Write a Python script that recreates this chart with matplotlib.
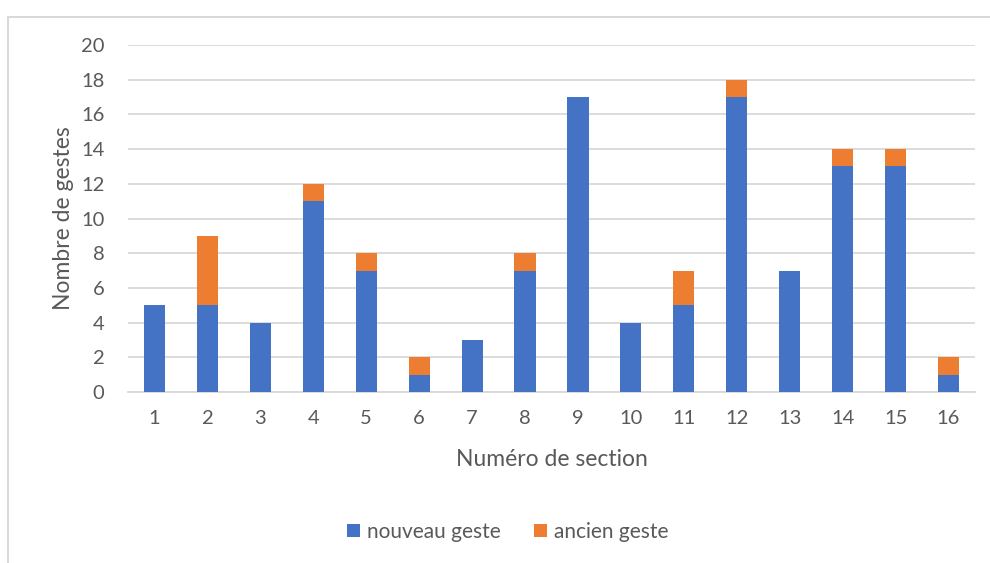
import matplotlib
matplotlib.use("Agg")
import matplotlib.pyplot as plt
from matplotlib.patches import Rectangle

sections = [str(i) for i in range(1, 17)]
nouveau = [5, 5, 4, 11, 7, 1, 3, 7, 17, 4, 5, 17, 7, 13, 13, 1]
ancien = [0, 4, 0, 1, 1, 1, 0, 1, 0, 0, 2, 1, 0, 1, 1, 1]
yticks = list(range(0, 21, 2))

blue = "#4472C4"
orange = "#ED7D31"
grid = "#D9D9D9"
txt = "#595959"

plt.rcParams["font.family"] = ["Lato", "DejaVu Sans"]

W, H = 990, 563
fig = plt.figure(figsize=(W / 100, H / 100), dpi=100)

# chart frame
fig.patches.append(Rectangle((8 / W, -0.1), 1.2, (H - 17) / H + 0.1,
                             transform=fig.transFigure, fill=False,
                             edgecolor=grid, linewidth=1.5))

ax = fig.add_axes([128 / W, 1 - 392 / H, (975 - 128) / W, (392 - 45) / H])
x = list(range(len(sections)))
ax.bar(x, nouveau, width=0.4, color=blue, label="nouveau geste", zorder=3)
ax.bar(x, ancien, width=0.4, bottom=nouveau, color=orange, label="ancien geste", zorder=3)

ax.set_xlim(-0.5, len(sections) - 0.5)
ax.set_ylim(0, 20)
ax.set_yticks(yticks)
ax.set_xticks(x)
ax.set_xticklabels(sections)
ax.yaxis.grid(True, color=grid, linewidth=1.3, zorder=0)
for s in ["left", "right", "top"]:
    ax.spines[s].set_visible(False)
ax.spines["bottom"].set_color(grid)
ax.spines["bottom"].set_linewidth(1.3)
ax.tick_params(axis="both", length=0, colors=txt, labelsize=14.5)
ax.tick_params(axis="x", pad=13)
ax.tick_params(axis="y", pad=17)

ax.set_xlabel("Numéro de section", fontsize=16.5, color=txt, labelpad=16)
ax.set_ylabel("Nombre de gestes", fontsize=16.5, color=txt, labelpad=5)

fig.legend(loc="center", bbox_to_anchor=(508 / W, 1 - 532 / H), ncol=2,
           frameon=False, fontsize=15, labelcolor=txt, handlelength=0.6,
           handleheight=0.6, handletextpad=0.35, columnspacing=1.6)

fig.savefig("out.png", dpi=100, facecolor="white")
